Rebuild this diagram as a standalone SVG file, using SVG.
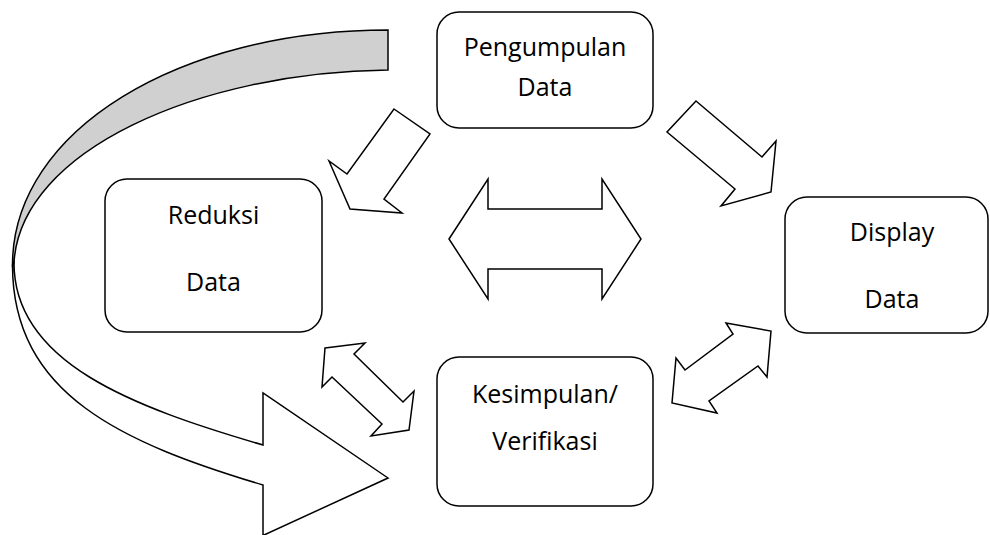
<svg xmlns="http://www.w3.org/2000/svg" width="990" height="535" viewBox="0 0 990 535">
<style>
.box{fill:#fff;stroke:#000;stroke-width:1.5}
.arrow{fill:#fff;stroke:#000;stroke-width:1.5;stroke-linejoin:miter}
.back{fill:#d0d0d0;stroke:#000;stroke-width:1.5}
.lbl{font-family:"Open Sans","Noto Sans","Liberation Sans",sans-serif;font-size:25px;fill:#000;text-anchor:middle}
</style>
<rect width="990" height="535" fill="#fff"/>
<g id="connectors">
  <path class="arrow" d="M12.5,265 C12.5,395 123,443 263,485 L263,535.5 L388,478 L263,393 L263,445 C133,407 14,363 14,263 Z"/>
  <path class="back" d="M388,30 C180,30 12.5,130 12.5,265 L14,263 C20,150 200,72 388,70 Z"/>
  <polygon class="arrow" points="394,109 430,134 384,199 402,213 350,209 329,161 347,174"/>
  <polygon class="arrow" points="449,239 488,179 488,209 602,209 602,179 641,239 602,299 602,269 488,269 488,299"/>
  <polygon class="arrow" points="696,101 762,157 776,141 771,192 721,206 735,189 667,132"/>
  <polygon class="arrow" points="726,323 771,331 767,377 758,366 709,401 717,413 672,403 676,358 685,370 733,334"/>
  <polygon class="arrow" points="325,348 365,343 354,354 403,402 414,391 409,430 371,436 382,424 332,377 322,387"/>
</g>
<g id="pengumpulan">
  <rect class="box" x="437" y="12" width="216" height="116" rx="22"/>
  <text class="lbl" x="545" y="56">Pengumpulan</text>
  <text class="lbl" x="545" y="96">Data</text>
</g>
<g id="reduksi">
  <rect class="box" x="105" y="179" width="217" height="153" rx="22"/>
  <text class="lbl" x="213.5" y="224">Reduksi</text>
  <text class="lbl" x="213.5" y="291">Data</text>
</g>
<g id="display">
  <rect class="box" x="785" y="197" width="203" height="136" rx="22"/>
  <text class="lbl" x="892" y="241">Display</text>
  <text class="lbl" x="892" y="308">Data</text>
</g>
<g id="kesimpulan">
  <rect class="box" x="437" y="357" width="216" height="149" rx="22"/>
  <text class="lbl" x="545" y="403">Kesimpulan/</text>
  <text class="lbl" x="545" y="450">Verifikasi</text>
</g>
</svg>
